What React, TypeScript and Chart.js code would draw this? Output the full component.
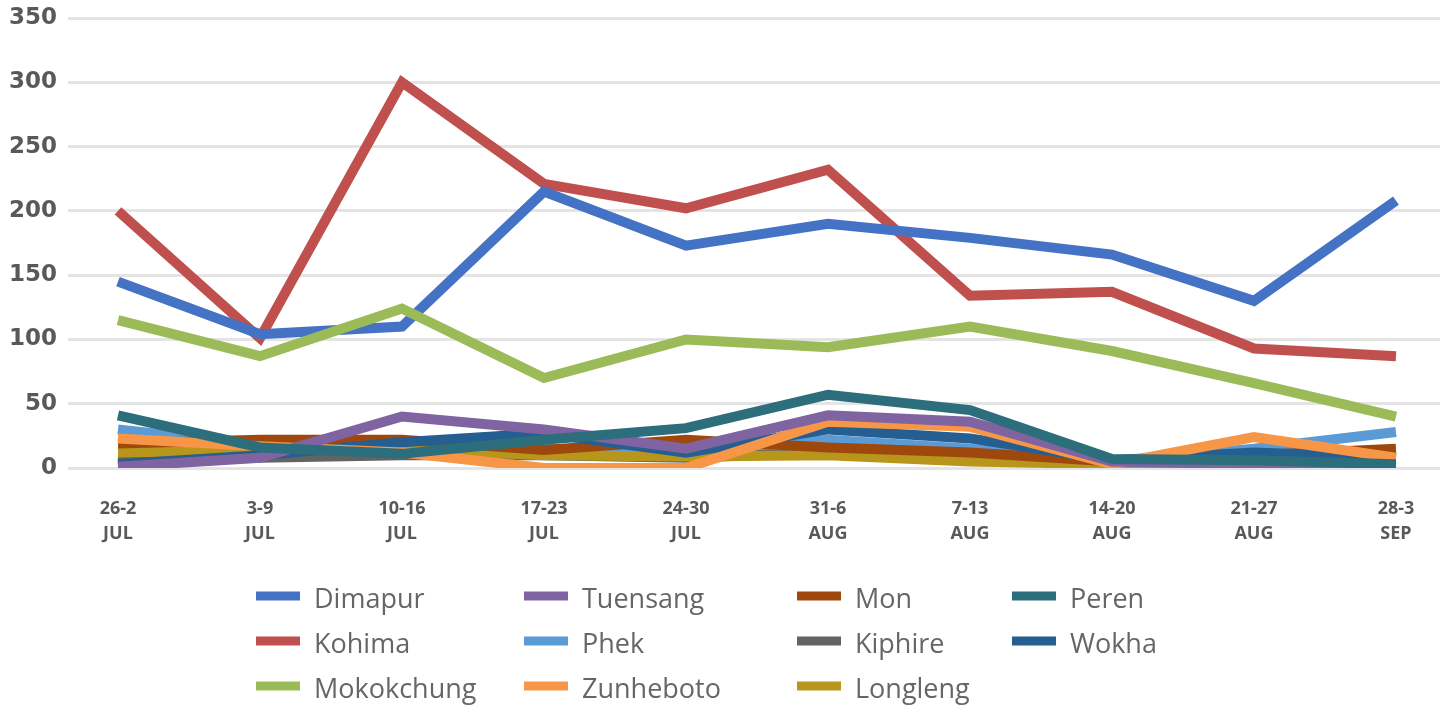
import React, { useEffect, useRef } from 'react';
import { Chart, registerables } from 'chart.js';

Chart.register(...registerables);

const categories = ['26-2 JUL', '3-9 JUL', '10-16 JUL', '17-23 JUL', '24-30 JUL', '31-6 AUG', '7-13 AUG', '14-20 AUG', '21-27 AUG', '28-3 SEP'];

const dimapur = [145, 104, 110, 215, 173, 190, 179, 166, 130, 208];
const kohima = [200, 101, 300, 221, 202, 232, 134, 137, 93, 87];
const mokokchung = [115, 87, 124, 70, 100, 94, 110, 91, 66, 40];
const tuensang = [1, 8, 40, 30, 15, 41, 36, 5, 3, 2];
const phek = [30, 18, 12, 15, 12, 22, 15, 5, 15, 28];
const zunheboto = [23, 17, 12, 0, 0, 36, 32, 3, 24, 8];
const mon = [19, 22, 22, 14, 22, 16, 12, 5, 10, 15];
const kiphire = [5, 8, 10, 10, 8, 12, 8, 3, 5, 5];
const longleng = [12, 14, 15, 10, 9, 10, 5, 3, 4, 4];
const peren = [41, 16, 11, 22, 31, 57, 45, 7, 6, 3];
const wokha = [3, 10, 20, 27, 12, 30, 23, 6, 12, 8];

const yTicks = [0, 50, 100, 150, 200, 250, 300, 350];

const series = [
  { name: 'Dimapur', values: dimapur, color: '#4472C4', order: 2 },
  { name: 'Kohima', values: kohima, color: '#C0504D', order: 3 },
  { name: 'Mokokchung', values: mokokchung, color: '#9BBB59', order: 1 },
  { name: 'Tuensang', values: tuensang, color: '#8064A2', order: 4 },
  { name: 'Phek', values: phek, color: '#5B9BD5', order: 10 },
  { name: 'Zunheboto', values: zunheboto, color: '#F79646', order: 5 },
  { name: 'Mon', values: mon, color: '#9E480E', order: 7 },
  { name: 'Kiphire', values: kiphire, color: '#636363', order: 9 },
  { name: 'Longleng', values: longleng, color: '#B8961C', order: 8 },
  { name: 'Peren', values: peren, color: '#2C6E7B', order: 0 },
  { name: 'Wokha', values: wokha, color: '#255E91', order: 6 },
];

const legendCols = [256, 524, 797, 1012];
const legendRows = [596, 641, 686];

const gridLegend = {
  id: 'gridLegend',
  afterDraw(chart: any) {
    const ctx = chart.ctx;
    ctx.save();
    chart.data.datasets.forEach((ds: any, i: number) => {
      const col = Math.floor(i / 3);
      const row = i % 3;
      const x = legendCols[col];
      const y = legendRows[row];
      ctx.fillStyle = ds.borderColor;
      ctx.fillRect(x, y - 4.5, 44, 9);
      ctx.fillStyle = '#666666';
      ctx.font = "400 27px 'Open Sans'";
      ctx.textAlign = 'left';
      ctx.textBaseline = 'middle';
      ctx.fillText(ds.label, x + 58, y + 4);
    });
    ctx.restore();
  },
};

export default function App() {
  const ref = useRef<HTMLCanvasElement | null>(null);
  useEffect(() => {
    if (!ref.current) return;
    const chart = new Chart(ref.current, {
      type: 'line',
      data: {
        datasets: series.map((s) => ({
          label: s.name,
          data: s.values.map((y, i) => ({ x: i, y })),
          borderColor: s.color,
          backgroundColor: s.color,
          borderWidth: 10,
          pointRadius: 0,
          tension: 0,
          borderJoinStyle: 'miter' as const,
          borderCapStyle: 'butt' as const,
          order: s.order,
          fill: false,
        })),
      },
      options: {
        responsive: false,
        animation: false,
        devicePixelRatio: 1,
        layout: { padding: { top: 18, right: 10, left: 0, bottom: 0 } },
        plugins: { legend: { display: false }, tooltip: { enabled: false } },
        scales: {
          x: {
            type: 'linear',
            min: -0.352,
            max: 9.31,
            grid: { display: false, drawTicks: false },
            border: { display: false },
            afterFit: (scale: any) => {
              scale.height = 241;
              scale.paddingLeft = 0;
              scale.paddingRight = 0;
            },
            ticks: {
              stepSize: 1,
              includeBounds: false,
              autoSkip: false,
              maxRotation: 0,
              padding: 29,
              color: '#595959',
              font: { family: "'Open Sans'", size: 18, weight: 'bold', lineHeight: 1.35 },
              callback: (v: any) => {
                const c = categories[Number(v)];
                return c ? c.split(' ') : '';
              },
            },
          },
          y: {
            min: yTicks[0],
            max: yTicks[yTicks.length - 1],
            afterFit: (scale: any) => {
              scale.width = 68;
              scale.paddingTop = 0;
              scale.paddingBottom = 0;
            },
            grid: { color: '#e4e4e4', lineWidth: 3, drawTicks: false },
            border: { display: false },
            ticks: {
              stepSize: 50,
              padding: 11,
              color: '#595959',
              font: { family: "'DejaVu Sans'", size: 23, weight: 'bold' },
            },
          },
        },
      },
      plugins: [gridLegend],
    });
    return () => chart.destroy();
  }, []);
  return (
    <div style={{ position: 'fixed', left: 0, top: 0, width: 1450, height: 709, background: '#fff' }}>
      <canvas ref={ref} width={1450} height={709} style={{ filter: 'blur(0.5px)' }} />
    </div>
  );
}
